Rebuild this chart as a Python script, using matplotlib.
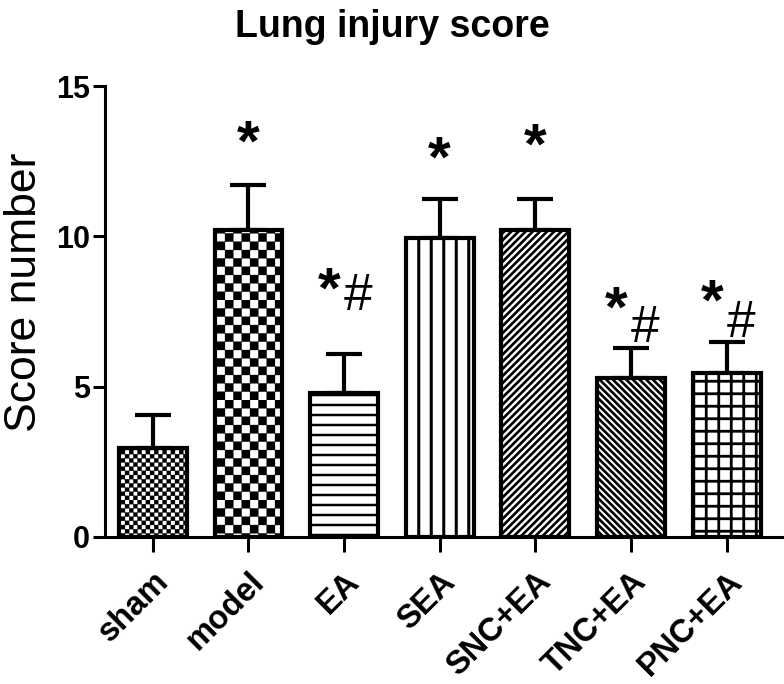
import warnings
import numpy as np
import matplotlib
matplotlib.use("Agg")
import matplotlib.pyplot as plt
from matplotlib import hatch as mhatch
from matplotlib.path import Path

warnings.filterwarnings("ignore")

groups = ["sham", "model", "EA", "SEA", "SNC+EA", "TNC+EA", "PNC+EA"]
means = [2.95, 10.2, 4.8, 9.95, 10.2, 5.3, 5.45]
sems = [1.1, 1.5, 1.27, 1.3, 1.05, 1.0, 1.03]
hatches = ["c" * 24, "c" * 12, "h" * 10, "v" * 8, "n" * 14, "s" * 15, "vh" * 8]
hatch_lw = [0.2, 0.2, 1.8, 2.2, 1.9, 1.9, 2.0]
stars = ["", "*", "*", "*", "*", "*", "*"]
hashes = ["", "", "#", "", "", "#", "#"]
star_y = [0, 13.02, 8.13, 12.48, 12.92, 7.49, 7.73]
hash_y = [0, 0, 8.0, 0, 0, 6.92, 7.09]


class CustomHatch(mhatch.HatchPatternBase):
    """h/v/n/s = line counts per inch, c = checker cells per inch"""

    def __init__(self, hatch, density):
        verts, codes = [], []
        hatch = hatch or ""
        nh, nv = hatch.count("h"), hatch.count("v")
        nn, ns, nc = hatch.count("n"), hatch.count("s"), hatch.count("c")
        for i in range(nh):
            y = (i + 0.5) / nh
            verts += [(0, y), (1, y)]
            codes += [Path.MOVETO, Path.LINETO]
        for i in range(nv):
            x = (i + 0.5) / nv
            verts += [(x, 0), (x, 1)]
            codes += [Path.MOVETO, Path.LINETO]
        if nn:
            for k in range(-nn, nn + 1):
                b = k / nn
                verts += [(0, b), (1, 1 + b)]
                codes += [Path.MOVETO, Path.LINETO]
        if ns:
            for k in range(-ns, ns + 1):
                b = k / ns
                verts += [(0, 1 + b), (1, b)]
                codes += [Path.MOVETO, Path.LINETO]
        for i in range(nc):
            for j in range(nc):
                if (i + j) % 2 == 0:
                    x0, y0, d = i / nc, j / nc, 1 / nc
                    verts += [(x0, y0), (x0 + d, y0), (x0 + d, y0 + d), (x0, y0 + d), (x0, y0)]
                    codes += [Path.MOVETO, Path.LINETO, Path.LINETO, Path.LINETO, Path.CLOSEPOLY]
        self._v = np.array(verts, dtype=float).reshape(-1, 2)
        self._c = np.array(codes, dtype=Path.code_type)
        self.num_vertices = len(codes)

    def set_vertices_and_codes(self, vertices, codes):
        vertices[:] = self._v
        codes[:] = self._c


mhatch._hatch_types.append(CustomHatch)

plt.rcParams["font.family"] = ["Liberation Sans", "DejaVu Sans"]

fig = plt.figure(figsize=(7.84, 6.84), dpi=100)
ax = fig.add_axes([105 / 784, 1 - 537 / 684, 1 - 105 / 784, (537 - 86) / 684])

x = np.arange(len(groups))
ax.errorbar(x, means, yerr=[np.zeros(len(x)), sems], fmt="none", ecolor="black",
            elinewidth=3, capsize=13, capthick=3, zorder=1)
for i in range(len(groups)):
    with plt.rc_context({"hatch.linewidth": hatch_lw[i]}):
        bars = ax.bar(x[i], means[i], width=0.71, color="white", edgecolor="black",
                      linewidth=3, hatch=hatches[i], zorder=2)
    for b in bars:
        try:
            b.set_hatch_linewidth(hatch_lw[i])
        except AttributeError:
            pass

for i in range(len(groups)):
    if stars[i] and not hashes[i]:
        ax.text(x[i], star_y[i], "*", ha="center", va="center", fontsize=42,
                fontweight="bold")
    elif stars[i]:
        ax.text(x[i] - 0.155, star_y[i], "*", ha="center", va="center", fontsize=42,
                fontweight="bold")
        ax.text(x[i] + 0.15, hash_y[i], "#", ha="center", va="center", fontsize=37)

ax.set_xlim(-0.5, 6.6)
ax.set_ylim(0, 15)
ax.set_yticks([0, 5, 10, 15])
ax.set_xticks(x)
ax.set_xticklabels(groups, rotation=45, ha="right", rotation_mode="anchor",
                   fontsize=23.5, fontweight="bold")
for t in ax.get_yticklabels():
    t.set_fontsize(22)
    t.set_fontweight("bold")
ax.tick_params(axis="y", length=9, width=2.2, pad=2)
ax.tick_params(axis="x", length=11, width=2.2, pad=10)
ax.spines["top"].set_visible(False)
ax.spines["right"].set_visible(False)
ax.spines["left"].set_linewidth(2.2)
ax.spines["bottom"].set_linewidth(2.2)
ax.set_ylabel("Score number", fontsize=32)
ax.yaxis.set_label_coords(-0.089, 0.543)
fig.text(0.5, 1 - 9 / 684, "Lung injury score", ha="center", va="top",
         fontsize=27, fontweight="bold")

fig.savefig("out.png", dpi=100)
